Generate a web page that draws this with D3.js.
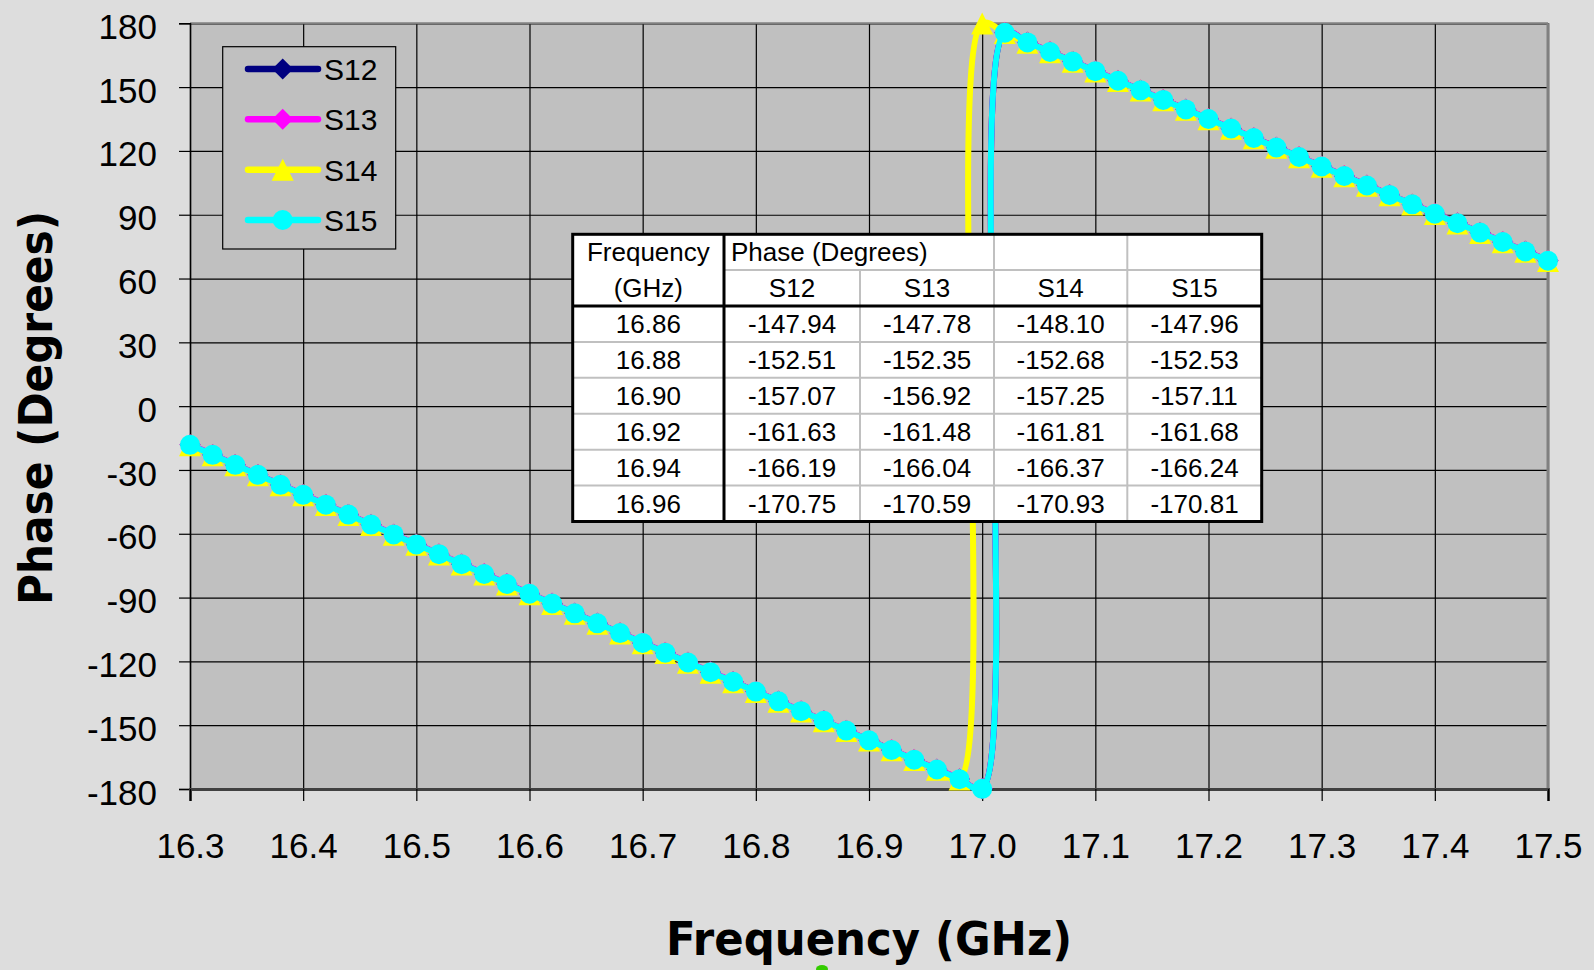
<!DOCTYPE html>
<html>
<head>
<meta charset="utf-8">
<script src="https://cdn.jsdelivr.net/npm/d3@7"></script>
<style>
  body { margin: 0; background: #dddddd; }
  svg { display: block; }
</style>
</head>
<body>
<svg id="chart" width="1594" height="970"></svg>
<script>
// frequency points (GHz)
const freq = [16.30, 16.32, 16.34, 16.36, 16.38, 16.40, 16.42, 16.44, 16.46, 16.48,
  16.50, 16.52, 16.54, 16.56, 16.58, 16.60, 16.62, 16.64, 16.66, 16.68,
  16.70, 16.72, 16.74, 16.76, 16.78, 16.80, 16.82, 16.84, 16.86, 16.88,
  16.90, 16.92, 16.94, 16.96, 16.98, 17.00, 17.02, 17.04, 17.06, 17.08,
  17.10, 17.12, 17.14, 17.16, 17.18, 17.20, 17.22, 17.24, 17.26, 17.28,
  17.30, 17.32, 17.34, 17.36, 17.38, 17.40, 17.42, 17.44, 17.46, 17.48,
  17.50];

// phase values (degrees)
const s12 = [-18.2, -22.9, -27.6, -32.3, -37.0, -41.7, -46.3, -51.0, -55.7, -60.3,
  -65.0, -69.6, -74.3, -78.9, -83.6, -88.2, -92.8, -97.4, -102.1, -106.7,
  -111.3, -115.9, -120.5, -125.1, -129.6, -134.2, -138.8, -143.4, -147.94, -152.51,
  -157.07, -161.63, -166.19, -170.75, -175.31, -179.87, 175.60, 171.08, 166.56, 162.05,
  157.54, 153.03, 148.53, 144.04, 139.55, 135.07, 130.59, 126.11, 121.64, 117.18,
  112.72, 108.26, 103.81, 99.37, 94.93, 90.49, 86.06, 81.64, 77.22, 72.80,
  68.39];
const s13 = [-18.0, -22.7, -27.4, -32.1, -36.8, -41.5, -46.1, -50.8, -55.5, -60.1,
  -64.8, -69.4, -74.1, -78.7, -83.4, -88.0, -92.6, -97.2, -101.9, -106.5,
  -111.1, -115.7, -120.3, -124.9, -129.4, -134.0, -138.6, -143.2, -147.78, -152.35,
  -156.92, -161.48, -166.04, -170.59, -175.15, -179.71, 175.76, 171.24, 166.72, 162.21,
  157.70, 153.19, 148.69, 144.20, 139.71, 135.23, 130.75, 126.27, 121.80, 117.34,
  112.88, 108.42, 103.97, 99.53, 95.09, 90.65, 86.22, 81.80, 77.38, 72.96,
  68.55];
const s14 = [-18.4, -23.1, -27.8, -32.5, -37.2, -41.9, -46.5, -51.2, -55.9, -60.5,
  -65.2, -69.8, -74.5, -79.1, -83.8, -88.4, -93.0, -97.6, -102.3, -106.9,
  -111.5, -116.1, -120.7, -125.3, -129.8, -134.4, -139.0, -143.6, -148.10, -152.68,
  -157.25, -161.81, -166.37, -170.93, -175.49, 179.95, 175.42, 170.90, 166.38, 161.87,
  157.36, 152.85, 148.35, 143.86, 139.37, 134.89, 130.41, 125.93, 121.46, 117.00,
  112.54, 108.08, 103.63, 99.19, 94.75, 90.31, 85.88, 81.46, 77.04, 72.62,
  68.21];
const s15 = [-18.2, -22.9, -27.6, -32.3, -37.0, -41.7, -46.3, -51.0, -55.7, -60.3,
  -65.0, -69.6, -74.3, -78.9, -83.6, -88.2, -92.8, -97.4, -102.1, -106.7,
  -111.3, -115.9, -120.5, -125.1, -129.6, -134.2, -138.8, -143.4, -147.96, -152.53,
  -157.11, -161.68, -166.24, -170.81, -175.37, -179.93, 175.55, 171.03, 166.51, 162.00,
  157.49, 152.98, 148.48, 143.99, 139.50, 135.02, 130.54, 126.06, 121.59, 117.13,
  112.67, 108.21, 103.76, 99.32, 94.88, 90.44, 86.01, 81.59, 77.17, 72.75,
  68.34];

const xTicks = [16.3, 16.4, 16.5, 16.6, 16.7, 16.8, 16.9, 17.0, 17.1, 17.2, 17.3, 17.4, 17.5];
const yTicks = [-180, -150, -120, -90, -60, -30, 0, 30, 60, 90, 120, 150, 180];

// inset table
const tableFreq = ["16.86", "16.88", "16.90", "16.92", "16.94", "16.96"];
const tableS12 = ["-147.94", "-152.51", "-157.07", "-161.63", "-166.19", "-170.75"];
const tableS13 = ["-147.78", "-152.35", "-156.92", "-161.48", "-166.04", "-170.59"];
const tableS14 = ["-148.10", "-152.68", "-157.25", "-161.81", "-166.37", "-170.93"];
const tableS15 = ["-147.96", "-152.53", "-157.11", "-161.68", "-166.24", "-170.81"];

const seriesNames = ["S12", "S13", "S14", "S15"];
const seriesColors = ["#000080", "#ff00ff", "#ffff00", "#00ffff"];
const seriesShapes = ["diamond", "diamond", "triangle", "circle"];

const series = [s12, s13, s14, s15].map((vals, i) => ({
  name: seriesNames[i],
  color: seriesColors[i],
  shape: seriesShapes[i],
  values: vals.map((v, j) => ({ f: freq[j], p: v }))
}));

const svg = d3.select("#chart");
const plotL = 190, plotR = 1548, plotT = 23.3, plotB = 789;

const x = d3.scaleLinear().domain([16.3, 17.5]).range([plotL, plotR]);
const y = d3.scaleLinear().domain([-180, 180]).range([plotB, plotT]);

// page background + plot area
svg.append("rect").attr("width", 1594).attr("height", 970).attr("fill", "#dddddd");
svg.append("rect")
  .attr("x", plotL).attr("y", plotT)
  .attr("width", plotR - plotL).attr("height", plotB - plotT)
  .attr("fill", "#c0c0c0");

// gridlines
svg.append("g")
  .attr("transform", `translate(0,${plotB})`)
  .call(d3.axisBottom(x).tickValues(xTicks).tickSize(-(plotB - plotT)).tickFormat(""))
  .call(g => g.select(".domain").remove())
  .call(g => g.selectAll("line").attr("stroke", "#000").attr("stroke-width", 1.2));
svg.append("g")
  .attr("transform", `translate(${plotL},0)`)
  .call(d3.axisLeft(y).tickValues(yTicks).tickSize(-(plotR - plotL)).tickFormat(""))
  .call(g => g.select(".domain").remove())
  .call(g => g.selectAll("line").attr("stroke", "#000").attr("stroke-width", 1.2));

// plot border
svg.append("line").attr("x1", plotL).attr("x2", plotR).attr("y1", plotT).attr("y2", plotT)
  .attr("stroke", "#808080").attr("stroke-width", 2);
svg.append("line").attr("x1", plotR).attr("x2", plotR).attr("y1", plotT).attr("y2", plotB)
  .attr("stroke", "#808080").attr("stroke-width", 3);

// axes with tick labels (plain hyphen for negatives)
const yAxis = svg.append("g")
  .attr("transform", `translate(${plotL},0)`)
  .call(d3.axisLeft(y).tickValues(yTicks).tickSize(11).tickPadding(22).tickFormat(d => String(d)));
yAxis.select(".domain").attr("stroke", "#000").attr("stroke-width", 1.5);
yAxis.selectAll("line").attr("stroke", "#000").attr("stroke-width", 1.2);
yAxis.selectAll("text")
  .attr("dy", "0.43em")
  .style("font-family", "'Liberation Sans', Arial, sans-serif")
  .style("font-size", "35px").attr("fill", "#000");

const xAxis = svg.append("g")
  .attr("transform", `translate(0,${plotB})`)
  .call(d3.axisBottom(x).tickValues(xTicks).tickSize(12).tickPadding(32).tickFormat(d => d.toFixed(1)));
xAxis.select(".domain").attr("stroke", "#404040").attr("stroke-width", 3);
xAxis.selectAll("line").attr("stroke", "#000").attr("stroke-width", 1.2);
xAxis.selectAll("text")
  .style("font-family", "'Liberation Sans', Arial, sans-serif")
  .style("font-size", "35px").attr("fill", "#000");

// axis titles
svg.append("text")
  .attr("x", 869).attr("y", 955)
  .attr("text-anchor", "middle")
  .attr("textLength", 406).attr("lengthAdjust", "spacingAndGlyphs")
  .style("font-family", "'DejaVu Sans', Verdana, sans-serif")
  .style("font-weight", "bold").style("font-size", "47px")
  .text("Frequency (GHz)");
svg.append("text")
  .attr("transform", "translate(52,408) rotate(-90)")
  .attr("text-anchor", "middle")
  .attr("textLength", 394).attr("lengthAdjust", "spacingAndGlyphs")
  .style("font-family", "'DejaVu Sans', Verdana, sans-serif")
  .style("font-weight", "bold").style("font-size", "47px")
  .text("Phase (Degrees)");

// small green blob under the x title
svg.append("ellipse")
  .attr("cx", 822).attr("cy", 969).attr("rx", 6).attr("ry", 4)
  .attr("fill", "#33cc00");

// marker shapes
function markerPath(shape) {
  if (shape === "diamond") return "M0,-10.5L10.5,0L0,10.5L-10.5,0Z";
  if (shape === "triangle") return "M0,-11L11,11L-11,11Z";
  return d3.symbol(d3.symbolCircle, Math.PI * 100)();
}

const line = d3.line()
  .x(d => x(d.f))
  .y(d => y(d.p))
  .curve(d3.curveCatmullRom.alpha(0.5));

// series: line then markers, in order so S15 ends on top
series.forEach(s => {
  const g = svg.append("g");
  g.append("path")
    .datum(s.values)
    .attr("fill", "none")
    .attr("stroke", s.color)
    .attr("stroke-width", 6)
    .attr("stroke-linejoin", "round")
    .attr("d", line);
  g.selectAll("path.mk")
    .data(s.values)
    .enter()
    .append("path")
    .attr("class", "mk")
    .attr("transform", d => `translate(${x(d.f)},${y(d.p)})`)
    .attr("d", markerPath(s.shape))
    .attr("fill", s.color);
});

// legend
const legend = svg.append("g");
legend.append("rect")
  .attr("x", 222.7).attr("y", 46.7).attr("width", 173).attr("height", 202.3)
  .attr("fill", "#c0c0c0").attr("stroke", "#000").attr("stroke-width", 1.2);
const legendY = d3.scalePoint().domain(seriesNames).range([69, 220]);
const item = legend.selectAll("g.item")
  .data(series)
  .enter()
  .append("g")
  .attr("class", "item")
  .attr("transform", d => `translate(0,${legendY(d.name)})`);
item.append("line")
  .attr("x1", 248).attr("x2", 318)
  .attr("stroke", d => d.color).attr("stroke-width", 6.5).attr("stroke-linecap", "round");
item.append("path")
  .attr("transform", "translate(282.7,0)")
  .attr("d", d => markerPath(d.shape))
  .attr("fill", d => d.color);
item.append("text")
  .attr("x", 324).attr("y", 11)
  .style("font-family", "'Liberation Sans', Arial, sans-serif")
  .style("font-size", "30px")
  .text(d => d.name);

// inset table
const tbl = svg.append("g");
const colX = [572.7, 724, 860, 994, 1127.3, 1261.7];
const tTop = 234.3, hMid = 270, hBot = 306, tBot = 521.5;
const rowY = d3.scaleBand().domain(tableFreq).range([hBot, tBot]);
const tFont = "'Liberation Sans', Arial, sans-serif";

tbl.append("rect")
  .attr("x", colX[0]).attr("y", tTop)
  .attr("width", colX[5] - colX[0]).attr("height", tBot - tTop)
  .attr("fill", "#fff");

// light grid lines
const gray = "#c0c0c0";
tbl.append("line").attr("x1", colX[1]).attr("x2", colX[5]).attr("y1", hMid).attr("y2", hMid)
  .attr("stroke", gray).attr("stroke-width", 2);
tableFreq.slice(1).forEach(f => {
  tbl.append("line").attr("x1", colX[0]).attr("x2", colX[5])
    .attr("y1", rowY(f)).attr("y2", rowY(f))
    .attr("stroke", gray).attr("stroke-width", 2);
});
[colX[2], colX[3], colX[4]].forEach((cx, i) => {
  tbl.append("line").attr("x1", cx).attr("x2", cx)
    .attr("y1", i === 0 ? hMid : tTop).attr("y2", tBot)
    .attr("stroke", gray).attr("stroke-width", 2);
});

// thick black lines
tbl.append("line").attr("x1", colX[0]).attr("x2", colX[5]).attr("y1", hBot).attr("y2", hBot)
  .attr("stroke", "#000").attr("stroke-width", 3);
tbl.append("line").attr("x1", colX[1]).attr("x2", colX[1]).attr("y1", tTop).attr("y2", tBot)
  .attr("stroke", "#000").attr("stroke-width", 3);
tbl.append("rect")
  .attr("x", colX[0]).attr("y", tTop)
  .attr("width", colX[5] - colX[0]).attr("height", tBot - tTop)
  .attr("fill", "none").attr("stroke", "#000").attr("stroke-width", 3);

function cellText(txt, cx, cy, anchor) {
  tbl.append("text")
    .attr("x", cx).attr("y", cy + 9)
    .attr("text-anchor", anchor || "middle")
    .style("font-family", tFont).style("font-size", "26px")
    .text(txt);
}
const colMid = i => (colX[i] + colX[i + 1]) / 2;
cellText("Frequency", colMid(0), (tTop + hMid) / 2);
cellText("(GHz)", colMid(0), (hMid + hBot) / 2);
cellText("Phase (Degrees)", 731, (tTop + hMid) / 2, "start");
seriesNames.forEach((n, i) => cellText(n, colMid(i + 1), (hMid + hBot) / 2));

const tableCols = [tableFreq, tableS12, tableS13, tableS14, tableS15];
tableCols.forEach((col, ci) => {
  col.forEach((v, ri) => {
    cellText(v, colMid(ci), rowY(tableFreq[ri]) + rowY.bandwidth() / 2);
  });
});
</script>
</body>
</html>
